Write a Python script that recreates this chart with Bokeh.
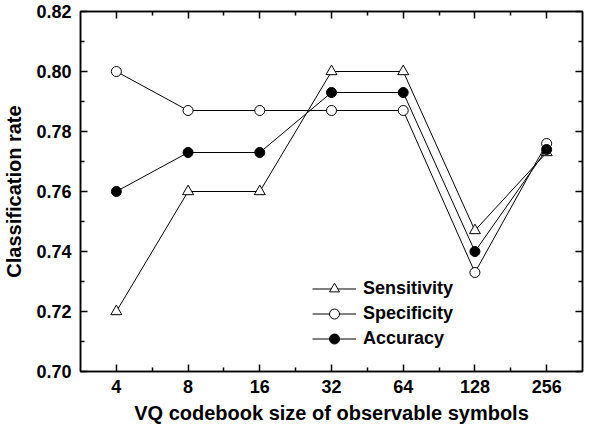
import numpy as np
from bokeh.plotting import figure
from bokeh.models import (FixedTicker, LinearAxis, Range1d, Legend, LegendItem,
                          ColumnDataSource)
from bokeh.embed import file_html
from bokeh.resources import INLINE

codebook_sizes = [4, 8, 16, 32, 64, 128, 256]
sensitivity = [0.720, 0.760, 0.760, 0.800, 0.800, 0.747, 0.773]
specificity = [0.800, 0.787, 0.787, 0.787, 0.787, 0.733, 0.776]
accuracy = [0.760, 0.773, 0.773, 0.793, 0.793, 0.740, 0.774]
y_ticks = [0.70, 0.72, 0.74, 0.76, 0.78, 0.80, 0.82]

FONT = "Liberation Sans"
x = np.log2(codebook_sizes)

p = figure(width=584, height=426, output_backend="svg", toolbar_location=None,
           x_range=Range1d(x[0] - 0.5, x[-1] + 0.5), y_range=Range1d(0.70, 0.82),
           min_border_left=80, min_border_right=2, min_border_top=11, min_border_bottom=10)
p.grid.visible = False
p.outline_line_color = "black"
p.outline_line_width = 1.5
p.background_fill_color = "white"
p.border_fill_color = "white"

xt = FixedTicker(ticks=list(x), minor_ticks=list(x[:-1] + 0.5))
yt = FixedTicker(ticks=y_ticks, minor_ticks=[v + 0.01 for v in y_ticks[:-1]])

def style_axis(ax):
    ax.axis_line_width = 1.5
    ax.major_tick_in = 7
    ax.major_tick_out = 0
    ax.minor_tick_in = 4
    ax.minor_tick_out = 0
    ax.major_tick_line_width = 1.5
    ax.minor_tick_line_width = 1.5
    ax.major_label_text_font = FONT
    ax.major_label_text_font_style = "bold"
    ax.major_label_text_font_size = "18px"
    ax.major_label_text_color = "black"
    ax.axis_label_text_font = FONT
    ax.axis_label_text_font_style = "bold"
    ax.axis_label_text_font_size = "20px"
    ax.axis_label_text_color = "black"

xa = p.xaxis[0]
xa.ticker = xt
xa.major_label_overrides = {float(v): str(s) for v, s in zip(x, codebook_sizes)}
xa.axis_label = "VQ codebook size of observable symbols"
style_axis(xa)
xa.major_label_standoff = 8
xa.axis_label_standoff = 6

ya = p.yaxis[0]
ya.ticker = yt
ya.major_label_overrides = {v: f"{v:.2f}" for v in y_ticks}
ya.axis_label = "Classification rate"
style_axis(ya)
ya.major_label_standoff = 9
ya.axis_label_standoff = 8

top = LinearAxis(ticker=xt, major_label_overrides={float(v): "" for v in x})
style_axis(top)
top.major_label_standoff = 0
p.add_layout(top, "above")
right = LinearAxis(ticker=yt, major_label_overrides={v: "" for v in y_ticks})
style_axis(right)
right.major_label_standoff = 0
p.add_layout(right, "right")

items = []
for name, vals, marker, fill in [("Sensitivity", sensitivity, "triangle", "white"),
                                 ("Specificity", specificity, "circle", "white"),
                                 ("Accuracy", accuracy, "circle", "black")]:
    src = ColumnDataSource(dict(x=x, y=vals))
    ln = p.line("x", "y", source=src, line_color="black", line_width=1)
    size = 11 if marker == "triangle" else 10
    sc = p.scatter("x", "y", source=src, marker=marker, size=size,
                   fill_color=fill, line_color="black", line_width=1)
    items.append(LegendItem(label=name, renderers=[ln, sc]))

legend = Legend(items=items, location=(232, 20))
legend.border_line_alpha = 0
legend.background_fill_alpha = 0
legend.padding = 0
legend.margin = 0
legend.spacing = 0
legend.glyph_width = 44
legend.glyph_height = 25
legend.label_height = 25
legend.label_standoff = 7
legend.label_text_font = FONT
legend.label_text_font_style = "bold"
legend.label_text_font_size = "18px"
legend.label_text_color = "black"
p.add_layout(legend, "center")

open("out.html", "w").write(file_html(p, INLINE))
